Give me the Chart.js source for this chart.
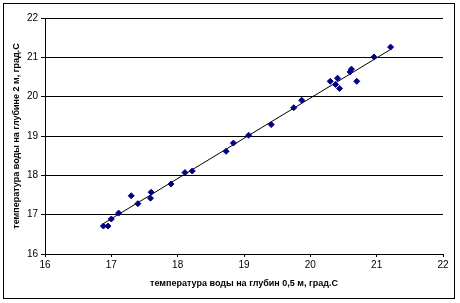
<!DOCTYPE html>
<html>
<head>
<meta charset="utf-8">
<script src="https://cdn.jsdelivr.net/npm/chart.js@4/dist/chart.umd.min.js"></script>
<style>
  html, body { margin: 0; padding: 0; background: #fff; }
  #wrap { width: 460px; height: 303px; }
</style>
</head>
<body>
<div id="wrap"><canvas id="chart" width="460" height="303"></canvas></div>
<script>
// water temperature at 0.5 m (x) vs at 2 m (y), deg C
const tempSurface = [16.88, 16.95, 17.00, 17.11, 17.30, 17.40, 17.59, 17.60, 17.90, 18.11, 18.22,
                     18.73, 18.84, 19.07, 19.41, 19.75, 19.87, 20.30, 20.38, 20.41, 20.44,
                     20.60, 20.62, 20.70, 20.96, 21.21];
const tempDepth2m = [16.71, 16.71, 16.89, 17.04, 17.48, 17.28, 17.42, 17.57, 17.78, 18.07, 18.11,
                     18.61, 18.82, 19.02, 19.29, 19.72, 19.91, 20.39, 20.31, 20.47, 20.21,
                     20.63, 20.70, 20.39, 21.01, 21.26];
const axisMin = 16;
const axisMax = 22;
const xTitle = 'температура воды на глубин 0,5 м, град.С';
const yTitle = 'температура воды на глубине 2 м, град.С';

const points = tempSurface.map((x, i) => ({ x: x, y: tempDepth2m[i] }));

// linear trendline (least squares), like the spreadsheet one
const n = points.length;
const mx = tempSurface.reduce((a, b) => a + b, 0) / n;
const my = tempDepth2m.reduce((a, b) => a + b, 0) / n;
let sxy = 0, sxx = 0;
points.forEach(p => { sxy += (p.x - mx) * (p.y - my); sxx += (p.x - mx) * (p.x - mx); });
const slope = sxy / sxx;
const icpt = my - slope * mx;
const xLo = Math.min(...tempSurface);
const xHi = Math.max(...tempSurface);
const trend = [{ x: xLo, y: icpt + slope * xLo }, { x: xHi, y: icpt + slope * xHi }];

const frame = {
    id: 'frame',
    afterDraw(chart) {
        const c = chart.ctx;
        c.save();
        c.strokeStyle = '#000';
        c.lineWidth = 1;
        c.strokeRect(3.5, 3.5, 451, 295);
        c.restore();
    }
};

const tickFont = { family: 'Liberation Sans, Arial, sans-serif', size: 10 };
const titleFont = { family: 'Liberation Sans, Arial, sans-serif', size: 9, weight: 'bold' };

new Chart(document.getElementById('chart').getContext('2d'), {
    type: 'scatter',
    data: {
        datasets: [{
            label: 'trend',
            type: 'line',
            data: trend,
            borderColor: '#000',
            borderWidth: 1,
            pointRadius: 0,
            fill: false,
            order: 2
        }, {
            label: 'data',
            data: points,
            pointStyle: 'rectRot',
            pointRadius: 3,
            backgroundColor: '#000080',
            borderColor: '#000080',
            borderWidth: 1,
            order: 1
        }]
    },
    options: {
        responsive: false,
        animation: false,
        layout: { padding: { left: 0, top: 18, right: 17, bottom: 0 } },
        plugins: {
            legend: { display: false },
            tooltip: { enabled: false }
        },
        scales: {
            x: {
                type: 'linear',
                min: axisMin,
                max: axisMax,
                afterFit: s => { s.height = 49; },
                border: { color: '#000', width: 1 },
                grid: { drawOnChartArea: false, color: '#000', tickLength: 3 },
                ticks: { stepSize: 1, color: '#000', font: tickFont, padding: 2, maxRotation: 0 },
                title: { display: true, text: xTitle, color: '#000', font: titleFont, padding: { top: 0, bottom: 14 } }
            },
            y: {
                type: 'linear',
                min: axisMin,
                max: axisMax,
                afterFit: s => { s.width = 45; },
                border: { color: '#000', width: 1 },
                grid: { color: '#000', tickLength: 4 },
                ticks: { stepSize: 1, color: '#000', font: tickFont, padding: 3 },
                title: { display: true, text: yTitle, color: '#000', font: titleFont, padding: { top: 11, bottom: 0 } }
            }
        }
    },
    plugins: [frame]
});
</script>
</body>
</html>
